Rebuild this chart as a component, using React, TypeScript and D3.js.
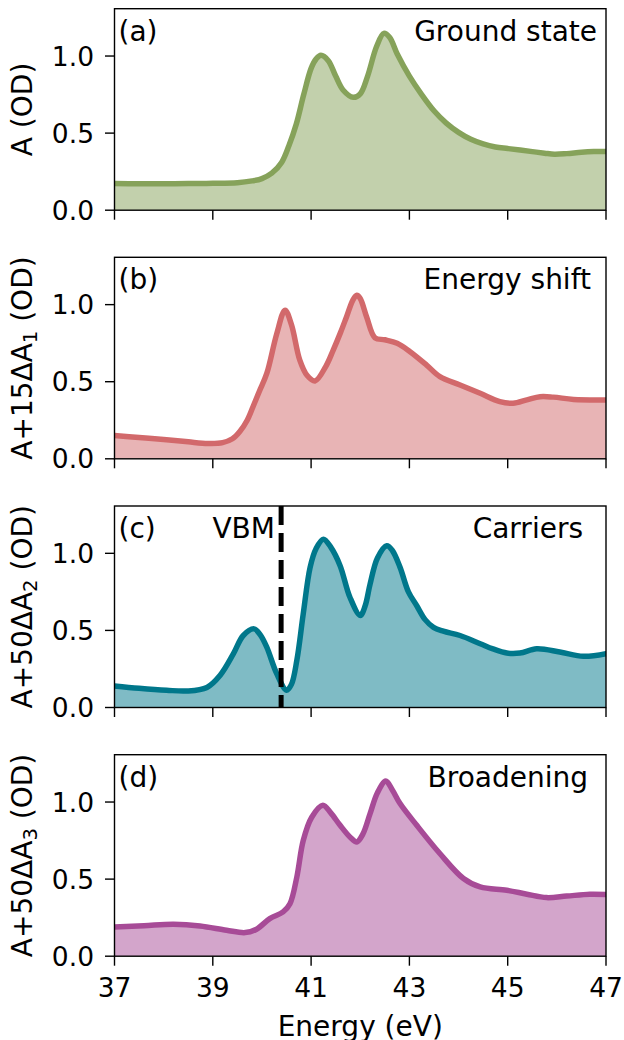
import React from 'react';
import * as d3 from 'd3';

// Shared axis ticks
const energyTicks = [37, 39, 41, 43, 45, 47];
const odTicks = [0, 0.5, 1.0];

// (a) Ground state absorbance
const groundEnergy = [37, 37.5, 38, 38.5, 39, 39.5, 39.8, 40.0, 40.2, 40.4, 40.55, 40.7, 40.85, 41.0, 41.1, 41.2, 41.35, 41.5, 41.65, 41.86, 42.0, 42.15, 42.33, 42.48, 42.6, 42.75, 43.0, 43.25, 43.5, 43.75, 44.0, 44.25, 44.5, 44.75, 45.0, 45.25, 45.5, 45.75, 45.95, 46.2, 46.5, 46.75, 47];
const groundOD = [0.173, 0.172, 0.172, 0.173, 0.174, 0.178, 0.19, 0.205, 0.24, 0.31, 0.42, 0.56, 0.75, 0.92, 0.98, 1.005, 0.97, 0.87, 0.78, 0.732, 0.755, 0.87, 1.06, 1.147, 1.12, 1.015, 0.87, 0.75, 0.645, 0.565, 0.505, 0.46, 0.43, 0.41, 0.40, 0.39, 0.38, 0.37, 0.363, 0.367, 0.376, 0.38, 0.38];

// (b) Energy shift, A + 15 dA1
const shiftEnergy = [37.0, 37.5, 38.0, 38.5, 38.9, 39.2, 39.4, 39.55, 39.7, 39.82, 39.95, 40.1, 40.3, 40.47, 40.6, 40.77, 40.92, 41.08, 41.3, 41.45, 41.6, 41.72, 41.85, 41.93, 42.0, 42.13, 42.3, 42.5, 42.75, 43.0, 43.35, 43.62, 44.03, 44.44, 44.84, 45.11, 45.39, 45.66, 45.93, 46.34, 47.0];
const shiftOD = [0.151, 0.138, 0.125, 0.11, 0.10, 0.105, 0.13, 0.177, 0.25, 0.339, 0.44, 0.555, 0.81, 0.964, 0.87, 0.64, 0.54, 0.505, 0.60, 0.705, 0.82, 0.92, 1.03, 1.061, 1.04, 0.92, 0.785, 0.772, 0.749, 0.698, 0.608, 0.533, 0.479, 0.425, 0.371, 0.36, 0.382, 0.403, 0.40, 0.385, 0.382];

// (c) Carriers, A + 50 dA2
const carrierEnergy = [37.0, 37.5, 38.06, 38.47, 38.88, 39.15, 39.42, 39.62, 39.84, 39.97, 40.1, 40.3, 40.5, 40.6, 40.71, 40.84, 40.98, 41.1, 41.25, 41.4, 41.59, 41.79, 42.0, 42.1, 42.2, 42.35, 42.54, 42.65, 42.81, 42.98, 43.15, 43.32, 43.49, 43.69, 44.03, 44.44, 44.7, 44.98, 45.25, 45.59, 46.06, 46.54, 47.0];
const carrierOD = [0.14, 0.125, 0.112, 0.107, 0.13, 0.209, 0.349, 0.467, 0.51, 0.47, 0.39, 0.22, 0.112, 0.15, 0.306, 0.607, 0.909, 1.03, 1.092, 1.04, 0.92, 0.715, 0.597, 0.66, 0.80, 0.97, 1.049, 1.02, 0.909, 0.75, 0.66, 0.57, 0.52, 0.495, 0.467, 0.414, 0.38, 0.353, 0.353, 0.381, 0.36, 0.332, 0.349];

// (d) Broadening, A + 50 dA3
const broadEnergy = [37.0, 37.6, 38.2, 38.74, 39.28, 39.66, 39.89, 40.16, 40.43, 40.57, 40.71, 40.84, 41.01, 41.24, 41.4, 41.59, 41.8, 41.93, 42.05, 42.2, 42.35, 42.52, 42.65, 42.81, 43.15, 43.62, 44.1, 44.44, 44.98, 45.39, 45.79, 46.2, 46.67, 47.0];
const broadOD = [0.19, 0.198, 0.207, 0.196, 0.168, 0.153, 0.175, 0.244, 0.287, 0.34, 0.514, 0.75, 0.90, 0.979, 0.93, 0.849, 0.77, 0.741, 0.79, 0.925, 1.06, 1.136, 1.08, 0.99, 0.849, 0.666, 0.504, 0.449, 0.428, 0.402, 0.38, 0.39, 0.402, 0.40];

// Valence band maximum marker
const vbmEnergy = 40.39;

const panelTags = ['(a)', '(b)', '(c)', '(d)'];
const panelTitles = ['Ground state', 'Energy shift', 'Carriers', 'Broadening'];
const lineColors = ['#86a25a', '#d2696b', '#00778b', '#a74b97'];
const labelFactors = ['', '15', '50', '50'];
const labelSubs = ['', '1', '2', '3'];

const W = 624;
const H = 1040;
const LEFT = 114.5;
const RIGHT = 606;
const PANEL_TOPS = [8.7, 257.3, 506, 754.7];
const PANEL_H = 201.5;
const FONT = "'DejaVu Sans', 'Liberation Sans', sans-serif";
const FS_TICK = 26.5;
const FS = 28;
const TICK = 9.5;
const TITLE_X = [597, 591, 583, 588];

const series = [
  { x: groundEnergy, y: groundOD },
  { x: shiftEnergy, y: shiftOD },
  { x: carrierEnergy, y: carrierOD },
  { x: broadEnergy, y: broadOD },
];

const xScale = d3.scaleLinear().domain([37, 47]).range([LEFT, RIGHT]);

function Panel({ i }: { i: number }) {
  const top = PANEL_TOPS[i];
  const bottom = top + PANEL_H;
  const yScale = d3.scaleLinear().domain([0, 1.307]).range([bottom, top]);
  const pts: [number, number][] = series[i].x.map((e, k) => [e, series[i].y[k]]);
  const curve = d3.curveCatmullRom.alpha(0.5);
  const line = d3
    .line<[number, number]>()
    .x((d) => xScale(d[0]))
    .y((d) => yScale(d[1]))
    .curve(curve);
  const area = d3
    .area<[number, number]>()
    .x((d) => xScale(d[0]))
    .y0(yScale(0))
    .y1((d) => yScale(d[1]))
    .curve(curve);
  const color = lineColors[i];
  const clipId = `clip-${i}`;
  const midY = (top + bottom) / 2;
  const isLast = i === 3;

  return (
    <g>
      <defs>
        <clipPath id={clipId}>
          <rect x={LEFT} y={top} width={RIGHT - LEFT} height={PANEL_H} />
        </clipPath>
      </defs>
      <g clipPath={`url(#${clipId})`}>
        <path d={area(pts) || ''} fill={color} fillOpacity={0.5} stroke="none" />
        <path d={line(pts) || ''} fill="none" stroke={color} strokeWidth={5.5} strokeLinejoin="round" strokeLinecap="round" />
        {i === 2 && (
          <line
            x1={xScale(vbmEnergy)}
            x2={xScale(vbmEnergy)}
            y1={top}
            y2={bottom}
            stroke="#000"
            strokeWidth={5}
            strokeDasharray="19 8"
          />
        )}
      </g>
      {/* frame */}
      <rect x={LEFT} y={top} width={RIGHT - LEFT} height={PANEL_H} fill="none" stroke="#000" strokeWidth={1.4} />
      {/* y ticks */}
      {odTicks.map((t) => (
        <g key={t}>
          <line x1={LEFT - TICK} x2={LEFT} y1={yScale(t)} y2={yScale(t)} stroke="#000" strokeWidth={1.4} />
          <text x={LEFT - TICK - 11} y={yScale(t)} dy="0.36em" textAnchor="end" fontFamily={FONT} fontSize={FS_TICK}>
            {t.toFixed(1)}
          </text>
        </g>
      ))}
      {/* x ticks */}
      {energyTicks.map((t) => (
        <g key={t}>
          <line x1={xScale(t)} x2={xScale(t)} y1={bottom} y2={bottom + TICK} stroke="#000" strokeWidth={1.4} />
          {isLast && (
            <text x={xScale(t)} y={bottom + 41} textAnchor="middle" fontFamily={FONT} fontSize={FS_TICK}>
              {t}
            </text>
          )}
        </g>
      ))}
      {/* y label */}
      <text transform={`translate(32, ${midY}) rotate(-90)`} textAnchor="middle" fontFamily={FONT} fontSize={FS}>
        {i === 0 ? (
          'A (OD)'
        ) : (
          <>
            <tspan>{`A+${labelFactors[i]}ΔA`}</tspan>
            <tspan dy={5} fontSize={FS * 0.7}>{labelSubs[i]}</tspan>
            <tspan dy={-5}>{' (OD)'}</tspan>
          </>
        )}
      </text>
      {/* panel annotations */}
      <text x={LEFT + 4} y={top + 32} fontFamily={FONT} fontSize={FS}>
        {panelTags[i]}
      </text>
      <text x={TITLE_X[i]} y={top + 32} textAnchor="end" fontFamily={FONT} fontSize={FS}>
        {panelTitles[i]}
      </text>
      {i === 2 && (
        <text x={275} y={top + 32} textAnchor="end" fontFamily={FONT} fontSize={FS}>
          VBM
        </text>
      )}
      {isLast && (
        <text x={(LEFT + RIGHT) / 2} y={bottom + 80} textAnchor="middle" fontFamily={FONT} fontSize={FS}>
          Energy (eV)
        </text>
      )}
    </g>
  );
}

export default function App() {
  return (
    <svg
      width={W}
      height={H}
      viewBox={`0 0 ${W} ${H}`}
      style={{ position: 'absolute', left: 0, top: 0, background: '#fff' }}
    >
      <rect x={0} y={0} width={W} height={H} fill="#fff" />
      {[0, 1, 2, 3].map((i) => (
        <Panel key={i} i={i} />
      ))}
    </svg>
  );
}
